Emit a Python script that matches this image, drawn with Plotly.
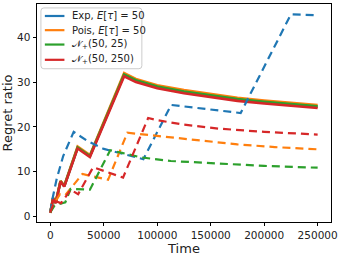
import plotly.graph_objects as go

# ---------------- data ----------------
labels = ["Exp, <i>E</i>[<i>τ</i>] = 50", "Pois, <i>E</i>[<i>τ</i>] = 50",
          "𝒩<sub>+</sub>(50, 25)", "𝒩<sub>+</sub>(50, 250)"]
colors = ["#1f77b4", "#ff7f0e", "#2ca02c", "#d62728"]

t_solid = [0, 2500, 5000, 9500, 13000, 25500, 37000, 69000, 80000, 100000,
           125000, 150000, 175000, 200000, 225000, 250000]
blue_solid = [0.9, 4.1, 3.1, 7.9, 6.8, 15.4, 13.5, 31.6, 30.3, 28.9, 27.8, 26.9, 26.1, 25.5, 25.0, 24.5]
orange_solid = [1.0, 4.2, 3.2, 8.0, 6.9, 15.6, 13.7, 32.0, 30.7, 29.3, 28.2, 27.3, 26.5, 25.9, 25.4, 24.9]
green_solid = [0.9, 4.0, 3.1, 7.9, 6.8, 15.4, 13.5, 31.7, 30.4, 29.0, 27.9, 27.0, 26.2, 25.6, 25.1, 24.6]
red_solid = [0.8, 4.0, 3.0, 7.8, 6.7, 15.2, 13.3, 31.3, 30.0, 28.6, 27.5, 26.6, 25.8, 25.2, 24.7, 24.2]

blue_t = [0, 2000, 6000, 12000, 21800, 35000, 50000, 67000, 87000, 113000, 145000, 178000, 225000, 250000]
blue_dash = [1.0, 4.0, 8.5, 13.5, 18.9, 16.8, 15.1, 14.1, 12.8, 24.9, 24.0, 23.1, 45.1, 44.9]

orange_t = [0, 2500, 9000, 14000, 30000, 54000, 72000, 100000, 140000, 175000, 210000, 250000]
orange_dash = [1.0, 2.5, 5.0, 4.8, 9.5, 8.2, 18.7, 18.0, 17.0, 16.1, 15.5, 15.0]

green_t = [0, 4000, 14000, 19000, 37000, 56000, 67000, 85000, 112700, 158000, 200000, 250000]
green_dash = [1.0, 2.5, 3.2, 6.2, 6.0, 14.8, 14.2, 13.2, 12.4, 11.8, 11.3, 10.9]

red_t = [0, 4000, 10000, 19000, 26000, 40000, 68000, 91500, 100000, 125000, 158000, 200000, 250000]
red_dash = [1.0, 3.5, 3.0, 6.0, 5.0, 11.0, 8.7, 22.0, 21.5, 20.5, 19.6, 18.9, 18.3]

x_ticks = [0, 50000, 100000, 150000, 200000, 250000]
y_ticks = [0, 10, 20, 30, 40]

solid_series = [blue_solid, orange_solid, green_solid, red_solid]
dashed_series = [(blue_t, blue_dash), (orange_t, orange_dash), (green_t, green_dash), (red_t, red_dash)]

# ---------------- figure ----------------
FONT = "DejaVu Sans"
fig = go.Figure()
for i in range(4):
    fig.add_trace(go.Scatter(x=t_solid, y=solid_series[i], mode="lines",
                             line=dict(color=colors[i], width=2.6),
                             name=labels[i], showlegend=False))
for i in range(4):
    tx, ty = dashed_series[i]
    fig.add_trace(go.Scatter(x=tx, y=ty, mode="lines",
                             line=dict(color=colors[i], width=2.2, dash="8px,5px"),
                             showlegend=False))

# manual legend (matplotlib-like compact box)
x0, x1, y0, y1 = 0.0133, 0.3567, 0.703, 0.982
rx, ry = 0.01, 0.0137
path = (f"M {x0+rx},{y0} L {x1-rx},{y0} Q {x1},{y0} {x1},{y0+ry} "
        f"L {x1},{y1-ry} Q {x1},{y1} {x1-rx},{y1} L {x0+rx},{y1} "
        f"Q {x0},{y1} {x0},{y1-ry} L {x0},{y0+ry} Q {x0},{y0} {x0+rx},{y0} Z")
shapes = [dict(type="path", path=path, xref="paper", yref="paper",
               line=dict(color="#cccccc", width=1), fillcolor="rgba(255,255,255,0.8)",
               layer="above")]
annotations = []
row_y = [0.945, 0.880, 0.814, 0.744]
for i in range(4):
    shapes.append(dict(type="line", xref="paper", yref="paper",
                       x0=0.0267, x1=0.0933, y0=row_y[i], y1=row_y[i],
                       line=dict(color=colors[i], width=2.2), layer="above"))
    annotations.append(dict(x=0.113, y=row_y[i], xref="paper", yref="paper",
                            text=labels[i], showarrow=False, xanchor="left",
                            yanchor="middle", font=dict(family=FONT, size=10, color="#222")))

axis_common = dict(showgrid=False, zeroline=False, showline=True, linecolor="black",
                   linewidth=0.9, mirror=True, ticks="outside", ticklen=3.5,
                   tickwidth=0.9, tickcolor="black",
                   tickfont=dict(family=FONT, size=10.5, color="#222"))

fig.update_layout(
    width=340, height=256,
    margin=dict(l=33, r=7, t=3, b=34),
    paper_bgcolor="white", plot_bgcolor="white",
    font=dict(family=FONT, color="#222"),
    shapes=shapes, annotations=annotations,
    xaxis=dict(range=[-12500, 262500], tickvals=x_ticks, tickformat="d",
               title=dict(text="Time", font=dict(family=FONT, size=13, color="#222"), standoff=1),
               **axis_common),
    yaxis=dict(range=[-1.2, 47.4], tickvals=y_ticks,
               title=dict(text="Regret ratio", font=dict(family=FONT, size=13, color="#222"), standoff=5),
               **axis_common),
)

fig.write_html("out.html")
